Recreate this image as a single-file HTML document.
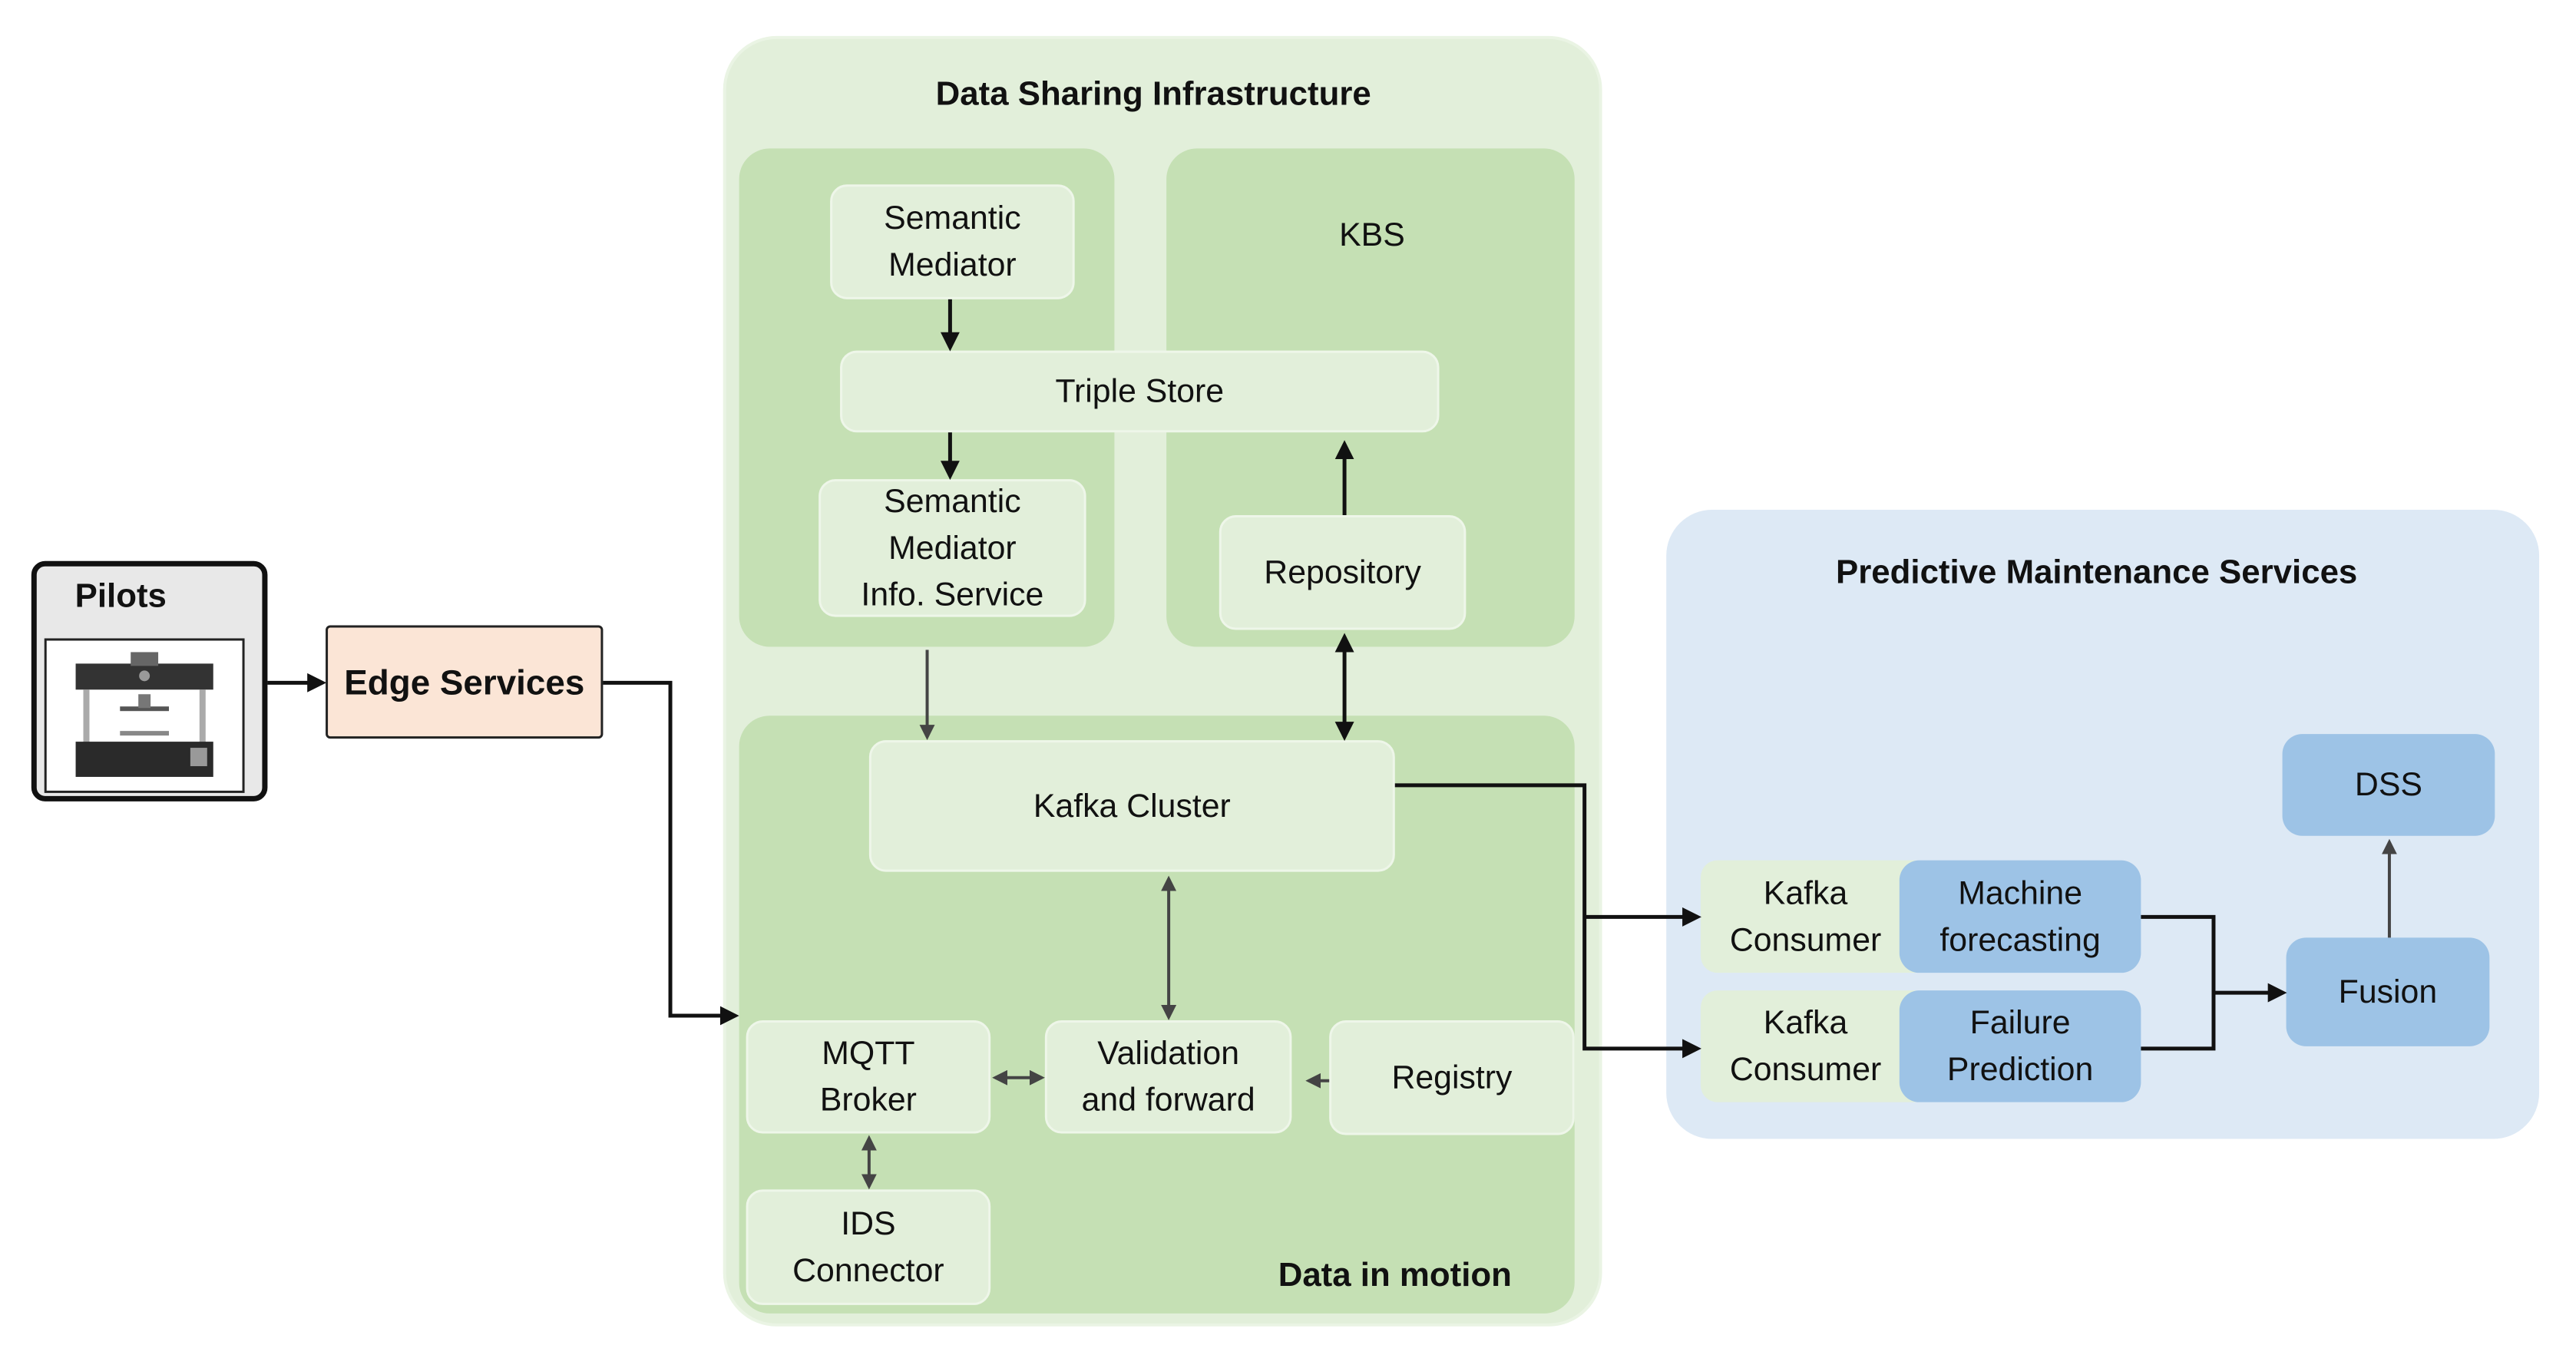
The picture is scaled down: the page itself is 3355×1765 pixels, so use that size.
<!DOCTYPE html>
<html><head><meta charset="utf-8"><style>
body{margin:0;width:3355px;height:1765px;background:#fff;position:relative;overflow:hidden;font-family:"Liberation Sans",sans-serif;color:#111}
#w{position:absolute;left:0;top:0;width:3355px;height:1765px;transform:scale(0.9955,0.997);transform-origin:0 0}
.b{position:absolute;box-sizing:border-box;display:flex;align-items:center;justify-content:center;text-align:center;font-size:43px;line-height:61px}
.g{background:#e2efda;border:3px solid #eef6e9;border-radius:22px}
.p{background:#c5e0b4;border-radius:40px}
.bl{background:#9dc3e6;border-radius:26px}
.t{position:absolute;font-size:44px;font-weight:bold;white-space:nowrap;transform:translate(-50%,-50%)}
svg{position:absolute;left:0;top:0}
</style></head><body><div id="w">
<div class="b" style="left:946px;top:47px;width:1150px;height:1686px;background:#e2efda;border-radius:70px;border:4px solid #eaf4e4"></div>
<div class="t" style="left:1509px;top:123px">Data Sharing Infrastructure</div>
<div class="b p" style="left:967px;top:194px;width:491px;height:651px"></div>
<div class="b p" style="left:1526px;top:194px;width:534px;height:651px"></div>
<div class="b" style="left:1695px;top:277px;width:200px;height:60px">KBS</div>
<div class="b p" style="left:967px;top:935px;width:1093px;height:781px"></div>
<div class="t" style="left:1825px;top:1666px">Data in motion</div>
<div class="b g" style="left:1086px;top:241px;width:320px;height:150px">Semantic<br>Mediator</div>
<div class="b g" style="left:1099px;top:458px;width:784px;height:107px">Triple Store</div>
<div class="b g" style="left:1071px;top:626px;width:350px;height:180px">Semantic<br>Mediator<br>Info. Service</div>
<div class="b g" style="left:1595px;top:673px;width:323px;height:150px">Repository</div>
<div class="b g" style="left:1137px;top:967px;width:688px;height:172px">Kafka Cluster</div>
<div class="b g" style="left:976px;top:1333px;width:320px;height:148px">MQTT<br>Broker</div>
<div class="b g" style="left:1367px;top:1333px;width:323px;height:148px">Validation<br>and forward</div>
<div class="b g" style="left:1739px;top:1333px;width:321px;height:150px">Registry</div>
<div class="b g" style="left:976px;top:1554px;width:320px;height:151px">IDS<br>Connector</div>
<div class="b" style="left:41px;top:733px;width:309px;height:314px;background:#e8e8e8;border:7px solid #111;border-radius:18px"></div>
<div class="t" style="left:158px;top:779px">Pilots</div>
<div class="b" style="left:58px;top:834px;width:262px;height:202px;background:#fff;border:3px solid #222">
<svg width="256" height="196" viewBox="0 0 256 196" style="position:static">
<rect x="38" y="30" width="180" height="34" fill="#333"/><rect x="110" y="15" width="36" height="18" fill="#666"/>
<circle cx="128" cy="46" r="7" fill="#999"/><rect x="48" y="64" width="8" height="70" fill="#aaa"/><rect x="200" y="64" width="8" height="70" fill="#aaa"/>
<rect x="96" y="86" width="64" height="6" fill="#555"/><rect x="120" y="70" width="16" height="18" fill="#777"/>
<rect x="96" y="118" width="64" height="6" fill="#888"/><rect x="38" y="132" width="180" height="46" fill="#2a2a2a"/>
<rect x="188" y="140" width="22" height="24" fill="#999"/></svg></div>
<div class="b" style="left:426px;top:817px;width:363px;height:148px;background:#fbe5d6;border:3px solid #222;border-radius:6px;font-weight:bold;font-size:46px">Edge Services</div>
<div class="b" style="left:2180px;top:666px;width:1142px;height:822px;background:#dde9f5;border-radius:60px"></div>
<div class="t" style="left:2743px;top:748px">Predictive Maintenance Services</div>
<div class="b" style="left:2225px;top:1124px;width:300px;height:147px;background:#e2efda;border-radius:22px;justify-content:flex-start;padding-left:38px">Kafka<br>Consumer</div>
<div class="b" style="left:2225px;top:1294px;width:300px;height:146px;background:#e2efda;border-radius:22px;justify-content:flex-start;padding-left:38px">Kafka<br>Consumer</div>
<div class="b bl" style="left:2485px;top:1124px;width:316px;height:147px">Machine<br>forecasting</div>
<div class="b bl" style="left:2485px;top:1294px;width:316px;height:146px">Failure<br>Prediction</div>
<div class="b bl" style="left:2986px;top:959px;width:278px;height:133px">DSS</div>
<div class="b bl" style="left:2991px;top:1225px;width:266px;height:142px">Fusion</div>
<svg width="3355" height="1765">
<defs>
<marker id="a" markerWidth="5" markerHeight="5" refX="4" refY="2.5" orient="auto-start-reverse" markerUnits="strokeWidth"><path d="M0,0L5,2.5L0,5z" fill="#111"/></marker>
<marker id="c" markerWidth="5" markerHeight="5" refX="4" refY="2.5" orient="auto-start-reverse" markerUnits="strokeWidth"><path d="M0,0L5,2.5L0,5z" fill="#444"/></marker>
</defs>
<g fill="none" stroke="#111" stroke-width="5">
<path d="M350 892H422" marker-end="url(#a)"/>
<path d="M789 892H877V1327H962" marker-end="url(#a)"/>
<path d="M1243 391V454" marker-end="url(#a)"/>
<path d="M1243 565V622" marker-end="url(#a)"/>
<path d="M1759 673V580" marker-end="url(#a)"/>
<path d="M1759 832V963" marker-start="url(#a)" marker-end="url(#a)"/>
<path d="M1825 1026H2073V1370H2221" marker-end="url(#a)"/>
<path d="M2073 1198H2221" marker-end="url(#a)"/>
<path d="M2801 1198H2896V1370H2801"/>
<path d="M2896 1297H2987" marker-end="url(#a)"/>
</g>
<g fill="none" stroke="#444" stroke-width="4">
<path d="M1213 849V963" marker-end="url(#c)"/>
<path d="M1529 1148V1329" marker-start="url(#c)" marker-end="url(#c)"/>
<path d="M1302 1408H1363" marker-start="url(#c)" marker-end="url(#c)"/>
<path d="M1739 1412H1712" marker-end="url(#c)"/>
<path d="M1137 1487V1550" marker-start="url(#c)" marker-end="url(#c)"/>
<path d="M3126 1225V1100" marker-end="url(#c)"/>
</g>
</svg>
</div></body></html>
